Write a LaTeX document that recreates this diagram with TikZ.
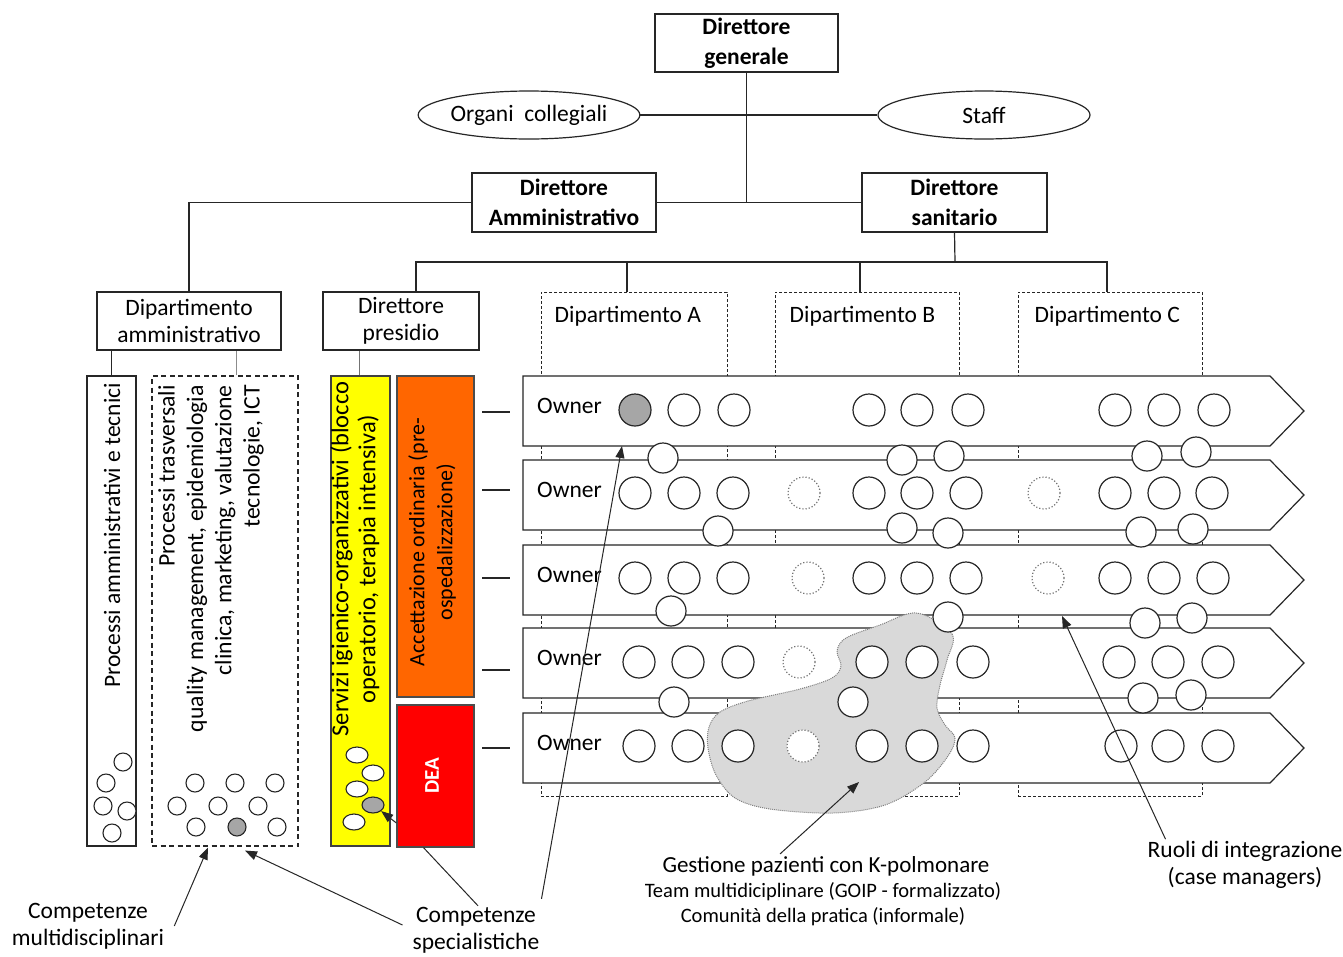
\documentclass[tikz,border=0pt]{standalone}
\usepackage{fontspec}
\setmainfont{Carlito}
\usetikzlibrary{shapes.geometric,arrows.meta,calc}
\newcommand\labfont{\fontsize{23.5}{27}\selectfont}
\newcommand\bldfont{\fontsize{23.5}{29.5}\selectfont\bfseries}
\newcommand\trafont{\fontsize{23.7}{28.3}\selectfont}
\newcommand\yelfont{\fontsize{24.5}{27}\selectfont}
\newcommand\accfont{\fontsize{22}{28}\selectfont}
\newcommand\gesfont{\fontsize{23}{25}\selectfont}
\newcommand\smlfont{\fontsize{20.5}{25}\selectfont}
\definecolor{lgray}{HTML}{D9D9D9}
\definecolor{mgray}{HTML}{A6A6A6}
\definecolor{myorange}{HTML}{FF6600}
\definecolor{myred}{HTML}{FF0000}
\definecolor{myyellow}{HTML}{FFFF00}
\begin{document}
\begin{tikzpicture}[x=1pt,y=-1pt,
  ln/.style={line width=1.2pt, draw=black!85},
  box/.style={draw=black!85, line width=1.2pt, inner sep=0pt, align=center, font=\labfont},
  bbox/.style={box, font=\bldfont},
  ell/.style={ellipse, draw=black!85, line width=1.2pt, inner sep=0pt, font=\labfont},
  dbox/.style={draw=black!85, line width=1pt, dash pattern=on 3pt off 2pt, inner sep=0pt},
  band/.style={draw=black!85, line width=1.2pt, fill=white},
  circ/.style={circle, draw=black!85, line width=1.2pt, fill=white, minimum size=32pt, inner sep=0pt},
  bcirc/.style={circ, minimum size=30pt},
  dcirc/.style={circ, draw=black!55, dotted, line width=1.2pt},
  gcirc/.style={circ, fill=mgray},
  scirc/.style={circle, draw=black!85, line width=1.1pt, fill=white, minimum size=18pt, inner sep=0pt},
  yell/.style={ellipse, draw=black!85, line width=1.1pt, fill=white, minimum width=22pt, minimum height=16pt, inner sep=0pt},
  rtext/.style={rotate=90, inner sep=0pt, font=\labfont},
  lab/.style={inner sep=0pt, align=center, font=\labfont},
  arr/.style={line width=1pt, draw=black!85, -{Triangle[length=12pt,width=9pt]}},
  pl/.style={line width=1pt, draw=black!85}
]
\useasboundingbox (0,0) rectangle (1343,956);
\fill[white] (0,0) rectangle (1343,956);

% ---------- top of the chart
\node[bbox, minimum width=183pt, minimum height=58pt] (dg) at (746.5,43) {Direttore\\generale};
\node[ell, minimum width=212pt, minimum height=48pt] (oc) at (529,115) {Organi\ \ collegiali};
\node[ell, minimum width=212pt, minimum height=48pt] (st) at (984,115) {Staff};
\node[bbox, minimum width=184pt, minimum height=59pt] (da) at (564,202.5) {Direttore\\Amministrativo};
\node[bbox, minimum width=185pt, minimum height=59pt] (ds) at (954.5,202.5) {Direttore\\sanitario};
\coordinate (j1) at (746.5,203);
\draw[ln] (dg.south) -- (j1);
\draw[ln] (oc.east) -- (st.west);
\draw[ln] (da.east) -- (ds.west);

% ---------- second level
\node[box, minimum width=184pt, minimum height=58pt] (dam) at (189,321) {Dipartimento\\amministrativo};
\node[box, minimum width=156pt, minimum height=58pt] (dp) at (401,321) {Direttore\\presidio};
\draw[ln] (da.west) -| (dam.north);

\node[dbox, minimum width=186pt, minimum height=504pt] (dA) at (634,544) {};
\node[dbox, minimum width=184pt, minimum height=504pt] (dB) at (867,544) {};
\node[dbox, minimum width=184pt, minimum height=504pt] (dC) at (1110,544) {};
\node[lab, anchor=west] (dAt) at ($(dA.north west)+(14,25)$) {Dipartimento A};
\node[lab, anchor=west] (dBt) at ($(dB.north west)+(15,25)$) {Dipartimento B};
\node[lab, anchor=west] (dCt) at ($(dC.north west)+(17,25)$) {Dipartimento C};

\coordinate (hub) at (955,262);
\coordinate (tdp) at ($(dp.north)+(15,0)$);
\coordinate (tdA) at ($(dA.north)+(-7,0)$);
\coordinate (tdB) at ($(dB.north)+(-7,0)$);
\coordinate (tdC) at ($(dC.north)+(-3,0)$);
\draw[ln] (ds.south) -- (hub);
\draw[ln] (hub) -| (tdp);
\draw[ln] (hub) -| (tdA);
\draw[ln] (hub) -| (tdB);
\draw[ln] (hub) -| (tdC);

% ---------- left columns
\node[box, minimum width=49pt, minimum height=470pt] (pat) at (111.5,611) {};
\node[draw=black!85, line width=1.1pt, dash pattern=on 5pt off 3.5pt, minimum width=146pt, minimum height=470pt, inner sep=0pt] (ptr) at (225,611) {};
\node[box, fill=myyellow, draw=black!75, minimum width=59pt, minimum height=470pt] (ys) at (360.5,611) {};
\node[box, fill=myorange, draw=black!70, minimum width=77pt, minimum height=321pt] (acc) at (435.5,536.5) {};
\node[box, fill=myred, draw=black!70, minimum width=77pt, minimum height=142pt] (dea) at (435.5,776) {};

\draw[ln] (dam.south -| pat.north) -- (pat.north);
\coordinate (ptrc) at ($(ptr.north)+(11,0)$);
\draw[line width=1pt, draw=black!45] (ptrc) -- (ptrc |- dam.south);
\coordinate (ysc) at ($(ys.north)+(1,0)$);
\draw[double=white, double distance=4pt, line width=0.8pt, draw=black!55] (ysc) -- (ysc |- dp.south);

\node[rtext, anchor=east] (patt) at (112,383) {Processi amministrativi e tecnici};
\node[rtext, anchor=east, align=right, font=\trafont] (ptrt) at (211,385) {Processi trasversali\\quality management, epidemiologia\\clinica, marketing, valutazione\\tecnologie, ICT};
\node[rtext, align=center, font=\yelfont] (yst) at (355,559) {Servizi igienico-organizzativi (blocco\\operatorio, terapia intensiva)};
\node[rtext, align=center, font=\accfont] (acct) at (432,542) {Accettazione ordinaria (pre-\\ospedalizzazione)};
\node[rtext, font=\fontsize{21}{25}\selectfont\bfseries, text=white] (deat) at (432,776) {DEA};

% small circles in the left columns
\foreach \x/\y [count=\i] in {123/762,106/783,103/806,127/811,112/833}
  \node[scirc] (pa\i) at (\x,\y) {};
\foreach \x/\y [count=\i] in {195/783,235/783,275/783,177/806,218/806,258/806,196/827,277/827}
  \node[scirc] (pt\i) at (\x,\y) {};
\node[scirc, fill=mgray] (ptg) at (237,827) {};
\foreach \x/\y [count=\i] in {357/755,373/773,357/789,354/822}
  \node[yell] (ye\i) at (\x,\y) {};
\node[yell, fill=mgray] (yeg) at (373,805) {};
\coordinate (deaw) at ($(dea.west)+(0,47)$);
\draw[arr] (deaw) -- (yeg.south east);

% ---------- bands
\foreach \t [count=\i] in {376,460,545,628,713}{
  \draw[band] (523,\t) -- (1270,\t) -- (1304,\t+35) -- (1270,\t+70) -- (523,\t+70) -- cycle;
  \node[lab, anchor=west] (ow\i) at (537,\t+30) {Owner};
}
\foreach \y [count=\i] in {412,490,578,670,748}{
  \coordinate (sa\i) at (482,\y);
  \coordinate (sb\i) at (510,\y);
  \draw[ln] (sa\i) -- (sb\i);
}

% ---------- blob
\draw[fill=lgray, draw=black!50, densely dotted, line width=1pt]
  plot[smooth cycle, tension=0.55] coordinates {
  (917,613) (952,634) (947,660) (940,685) (937,708) (945,725) (955,738) (948,756)
  (925,782) (885,805) (833,813) (770,809) (735,798) (716,775) (708,748) (709,727)
  (720,712) (748,701) (800,689) (832,678) (841,666) (837,651) (846,638) (880,625)};

% ---------- circles in bands
\node[gcirc] (c1g) at (635,410) {};
\foreach \x [count=\i] in {684,734,869,917,968,1115,1164,1214}
  \node[circ] (c1-\i) at (\x,410) {};
\foreach \x [count=\i] in {635,684,733,869,917,966,1115,1164,1212}
  \node[circ] (c2-\i) at (\x,493) {};
\foreach \x [count=\i] in {635,684,733,869,917,966,1115,1164,1213}
  \node[circ] (c3-\i) at (\x,578) {};
\foreach \x [count=\i] in {639,688,738,872,922,973,1119,1168,1218}
  \node[circ] (c4-\i) at (\x,662) {};
\foreach \x [count=\i] in {639,688,738,872,922,973,1121,1168,1218}
  \node[circ] (c5-\i) at (\x,746) {};
\foreach \x/\y [count=\i] in {804/493,1044/493,808/578,1048/578,799/662,803/746}
  \node[dcirc] (d\i) at (\x,\y) {};
% circles on the gaps between bands
\foreach \x/\y [count=\i] in {663/458,902/460,949/456,1147/456,1196/452,
  718/531,902/528,948/533,1141/532,1193/529,
  671/611,948/617,1145/623,1192/618,
  674/702,853/702,1143/698,1191/695}
  \node[bcirc] (g\i) at (\x,\y) {};

% ---------- bottom labels
\node[lab] (cm) at (88,926) {Competenze\\multidisciplinari};
\node[lab] (cs) at (476,930) {Competenze\\specialistiche};
\node[lab, font=\gesfont] (gp) at (826,866) {Gestione pazienti con K-polmonare};
\node[lab, font=\smlfont, anchor=north] (gp2) at (823,882) {Team multidiciplinare (GOIP - formalizzato)\\Comunità della pratica (informale)};
\node[lab] (ri) at (1245,865) {Ruoli di integrazione\\(case managers)};

\coordinate (tptr1) at ($(ptr.south)+(-17,1)$);
\coordinate (tptr2) at ($(ptr.south)+(20,4)$);
\coordinate (tb1) at (622,446);
\coordinate (tblob) at (859,782);
\coordinate (tint) at (1062,616);

\draw[arr] ($(cm.east)+(10,0)$) -- (tptr1);
\draw[arr] ($(cs.west)+(-10,-5)$) -- (tptr2);
\draw[pl] ($(cs.north)+(2,-1)$) -- ($(dea.south)+(-12,0)$);
\draw[arr] ($(cs.north east)+(2,-8)$) -- (tb1);
\draw[arr] ($(gp.north)+(-46,-2)$) -- (tblob);
\draw[arr] ($(ri.north west)+(18,-2)$) -- (tint);
\end{tikzpicture}
\end{document}
